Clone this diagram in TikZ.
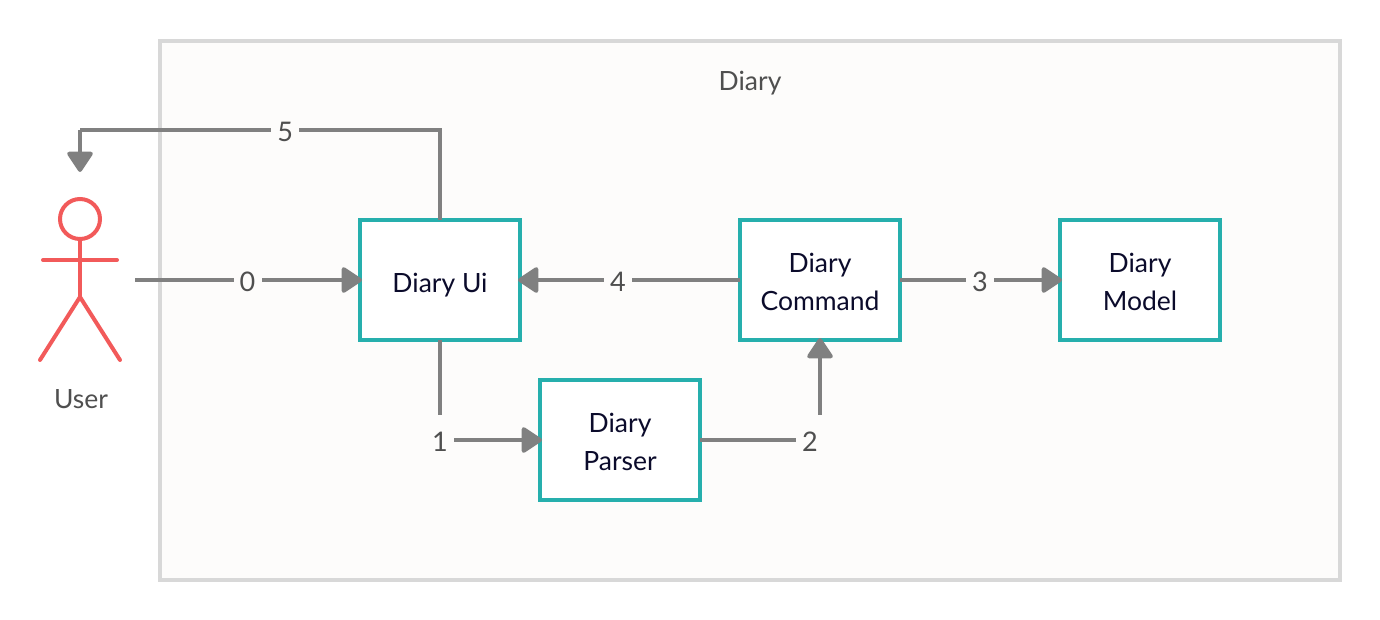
\documentclass[tikz,border=0pt]{standalone}
\usepackage{fontspec}
\setmainfont{Lato}
\usetikzlibrary{arrows.meta}

\definecolor{framegray}{HTML}{D8D8D8}
\definecolor{framefill}{HTML}{FDFCFB}
\definecolor{boxteal}{HTML}{26AFAD}
\definecolor{flowgray}{HTML}{808080}
\definecolor{actorred}{HTML}{F25A5A}
\definecolor{boxtext}{HTML}{0B0B2B}
\definecolor{labeltext}{HTML}{4F4F4F}

\newcommand{\boxlines}[2][8.6pt]{\raisebox{-#1}[0pt][0pt]{\parbox{150pt}{\centering #2}}}

\tikzset{
	box/.style={draw=boxteal,line width=4pt,fill=white,minimum width=160pt,minimum height=120pt,inner sep=0pt,outer sep=0pt,text=boxtext,font=\fontsize{26.5}{38}\selectfont},
	flow/.style={draw=flowgray,line width=4pt,shorten >=-2pt,-{Triangle[length=22pt,width=28pt,round]}},
	plainflow/.style={draw=flowgray,line width=4pt},
	steplabel/.style={fill=framefill,text=labeltext,minimum width=28pt,minimum height=54pt,inner sep=0pt,yshift=-2pt,font=\fontsize{27}{30}\selectfont},
	caption/.style={text=labeltext,inner sep=0pt,font=\fontsize{26.5}{30}\selectfont},
	actor/.style={draw=actorred,line width=4pt,line cap=round}
}

\begin{document}
\begin{tikzpicture}[x=1pt,y=-1pt]

	\useasboundingbox (0,0) rectangle (1380,620);

	\node[draw=framegray,fill=framefill,line width=4pt,minimum width=1180pt,minimum height=539pt,inner sep=0pt,outer sep=0pt] (diary) at (750,310.5) {};
	\node[caption] (diarytitle) at (750,83) {Diary};

	\node[box] (ui) at (440,280) {\boxlines[11.6pt]{Diary Ui}};
	\node[box] (command) at (820,280) {\boxlines{Diary\\Command}};
	\node[box] (model) at (1140,280) {\boxlines{Diary\\Model}};
	\node[box] (parser) at (620,440) {\boxlines{Diary\\Parser}};

	% the user
	\draw[actor] (80,219) circle (20);
	\draw[actor] (80,239) -- (80,297);
	\draw[actor] (43,260) -- (117,260);
	\draw[actor] (40,360) -- (80,297) -- (120,360);
	\node[caption] (user) at (81,399) {User};

	\coordinate (userside) at (135,280);
	\coordinate (toptip) at (80,170);
	\coordinate (topturn) at (80,130);

	\draw[flow] (userside) -- node[steplabel] (step0) {0} (ui.west);
	\draw[flow] (ui.south) |- node[steplabel,pos=.5] (step1) {1} (parser.west);
	\draw[flow] (parser.east) -| node[steplabel,pos=.5,xshift=-10pt] (step2) {2} (command.south);
	\draw[flow] (command.east) -- node[steplabel] (step3) {3} (model.west);
	\draw[flow] (command.west) -- node[steplabel,pos=.555] (step4) {4} (ui.east);
	\draw[plainflow] (ui.north) |- node[steplabel,pos=.715] (step5) {5} (topturn);
	\draw[flow] (topturn) -- (toptip);

\end{tikzpicture}
\end{document}
